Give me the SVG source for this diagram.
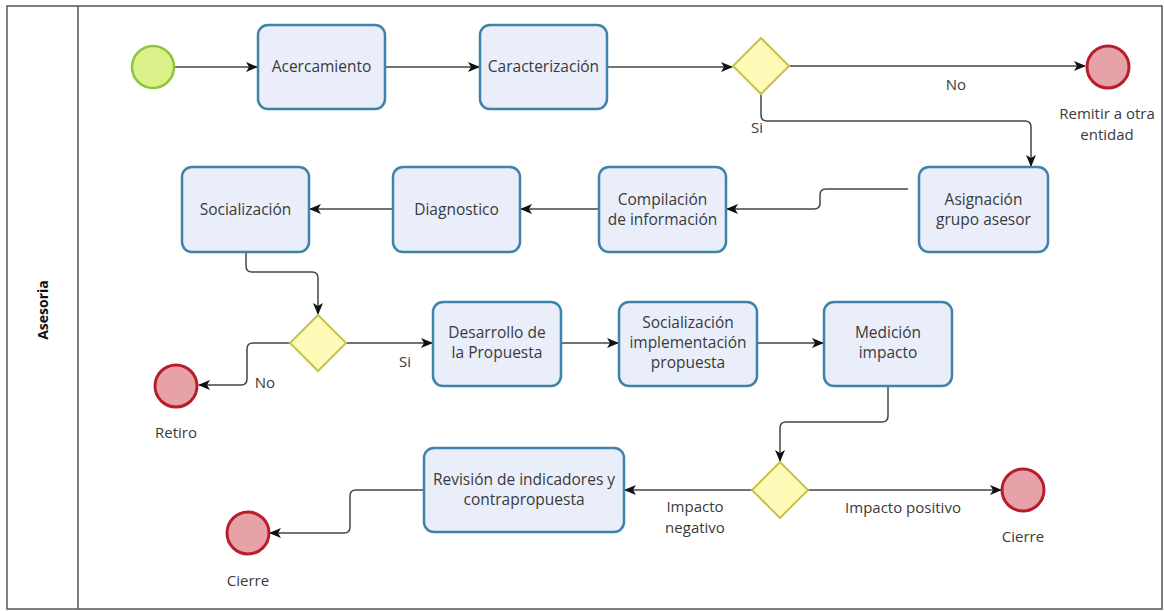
<svg xmlns="http://www.w3.org/2000/svg" width="1164" height="611" viewBox="0 0 1164 611">
<defs>
<marker id="arr" viewBox="0 0 12 10" refX="11" refY="5" markerWidth="12" markerHeight="11" markerUnits="userSpaceOnUse" orient="auto">
<path d="M0,0 L12,5 L0,10 L3,5 Z" fill="#111"/>
</marker>
</defs>
<style>
.task{fill:#e9eefa;stroke:#3e84a8;stroke-width:2.5}
.start{fill:#dcf08a;stroke:#8dc43c;stroke-width:2.5}
.end{fill:#e7a2a8;stroke:#b81d2a;stroke-width:3}
.gw{fill:#fcfab6;stroke:#c8c248;stroke-width:2}
.t{font-family:"Open Sans","DejaVu Sans",sans-serif;font-size:15.5px;fill:#3a3a3a;text-anchor:middle}
.lbl{font-family:"Open Sans","DejaVu Sans",sans-serif;font-size:15px;fill:#3a3a3a;text-anchor:middle}
.c{fill:none;stroke:#444;stroke-width:1.5;marker-end:url(#arr)}
</style>
<rect x="0" y="0" width="1164" height="611" fill="#fff"/>
<g id="pool">
<rect x="7" y="6" width="1155" height="603" fill="none" stroke="#555" stroke-width="1.5"/>
<line x1="78" y1="6" x2="78" y2="609" stroke="#555" stroke-width="1.5"/>
<text x="48" y="310" transform="rotate(-90 48 310)" class="t" style="font-weight:bold;font-size:14px;fill:#111">Asesoria</text>
</g>
<g id="connectors">
<path class="c" d="M174,67 H257"/>
<path class="c" d="M385,67 H479"/>
<path class="c" d="M607,67 H732"/>
<path class="c" d="M789,66 H1085"/>
<path class="c" d="M761,94 V115 Q761,121 767,121 H1025 Q1031,121 1031,127 V166"/>
<path class="c" d="M908,189 H826 Q820,189 820,195 V203 Q820,209 814,209 H727"/>
<path class="c" d="M599,209 H521"/>
<path class="c" d="M393,209 H310"/>
<path class="c" d="M246,253 V266 Q246,272 252,272 H312 Q318,272 318,278 V314"/>
<path class="c" d="M291,343 H253 Q247,343 247,349 V379 Q247,385 241,385 H199"/>
<path class="c" d="M345,343 H432"/>
<path class="c" d="M561,343 H618"/>
<path class="c" d="M757,343 H823"/>
<path class="c" d="M888,387 V416 Q888,422 882,422 H786 Q780,422 780,428 V461"/>
<path class="c" d="M808,490 H1001"/>
<path class="c" d="M752,490 H625"/>
<path class="c" d="M424,490 H356 Q350,490 350,496 V527 Q350,533 344,533 H270"/>
</g>
<g id="start"><circle class="start" cx="153" cy="67" r="21"/></g>
<g id="acercamiento"><rect class="task" x="258" y="25" width="127" height="84" rx="10"/><text class="t" x="321.5" y="72">Acercamiento</text></g>
<g id="caracterizacion"><rect class="task" x="480" y="25" width="127" height="84" rx="10"/><text class="t" x="543.5" y="72">Caracterización</text></g>
<g id="gw1"><path class="gw" d="M761,38 L789,66 L761,94 L733,66 Z"/></g>
<g id="remitir"><circle class="end" cx="1108" cy="67" r="21"/><text class="lbl" x="1107" y="119">Remitir a otra</text><text class="lbl" x="1107" y="140">entidad</text></g>
<g id="asignacion"><rect class="task" x="919" y="167" width="129" height="85" rx="10"/><text class="t" x="983.5" y="205">Asignación</text><text class="t" x="983.5" y="225">grupo asesor</text></g>
<g id="compilacion"><rect class="task" x="599" y="167" width="127" height="85" rx="10"/><text class="t" x="662.5" y="205">Compilación</text><text class="t" x="662.5" y="225">de información</text></g>
<g id="diagnostico"><rect class="task" x="393" y="167" width="127" height="85" rx="10"/><text class="t" x="456.5" y="215">Diagnostico</text></g>
<g id="socializacion"><rect class="task" x="182" y="167" width="127" height="85" rx="10"/><text class="t" x="245.5" y="215">Socialización</text></g>
<g id="gw2"><path class="gw" d="M318,315 L346,343 L318,371 L290,343 Z"/></g>
<g id="retiro"><circle class="end" cx="176" cy="386" r="21"/><text class="lbl" x="176" y="438">Retiro</text></g>
<g id="desarrollo"><rect class="task" x="433" y="302" width="128" height="84" rx="10"/><text class="t" x="497" y="338">Desarrollo de</text><text class="t" x="497" y="358">la Propuesta</text></g>
<g id="socimpl"><rect class="task" x="619" y="302" width="138" height="84" rx="10"/><text class="t" x="688" y="328">Socialización</text><text class="t" x="688" y="348">implementación</text><text class="t" x="688" y="368">propuesta</text></g>
<g id="medicion"><rect class="task" x="824" y="302" width="128" height="84" rx="10"/><text class="t" x="888" y="338">Medición</text><text class="t" x="888" y="358">impacto</text></g>
<g id="gw3"><path class="gw" d="M780,462 L808,490 L780,518 L752,490 Z"/></g>
<g id="cierre1"><circle class="end" cx="1023" cy="490" r="21"/><text class="lbl" x="1023" y="542">Cierre</text></g>
<g id="revision"><rect class="task" x="424" y="448" width="200" height="84" rx="10"/><text class="t" x="524" y="485">Revisión de indicadores y</text><text class="t" x="524" y="505">contrapropuesta</text></g>
<g id="cierre2"><circle class="end" cx="248" cy="533" r="21"/><text class="lbl" x="248" y="586">Cierre</text></g>
<g id="labels">
<text class="lbl" x="956" y="90">No</text>
<text class="lbl" x="757" y="133">Si</text>
<text class="lbl" x="265" y="388">No</text>
<text class="lbl" x="405" y="367">Si</text>
<text class="lbl" x="903" y="513">Impacto positivo</text>
<text class="lbl" x="695" y="512">Impacto</text>
<text class="lbl" x="695" y="533">negativo</text>
</g>
</svg>
